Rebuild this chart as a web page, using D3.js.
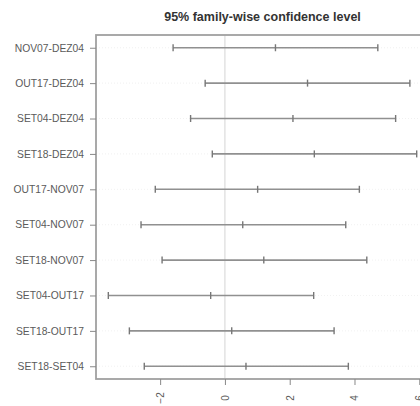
<!DOCTYPE html>
<html><head><meta charset="utf-8">
<script src="https://cdn.jsdelivr.net/npm/d3@7"></script>
<style>body{margin:0;background:#fff}svg{display:block}</style>
</head><body>
<svg id="c" width="420" height="406"></svg>
<script>
const comparisons = ["NOV07-DEZ04","OUT17-DEZ04","SET04-DEZ04","SET18-DEZ04","OUT17-NOV07","SET04-NOV07","SET18-NOV07","SET04-OUT17","SET18-OUT17","SET18-SET04"];
const diff = [1.56, 2.55, 2.10, 2.76, 1.01, 0.55, 1.20, -0.44, 0.21, 0.65];
const lwr  = [-1.60, -0.61, -1.06, -0.39, -2.15, -2.59, -1.94, -3.60, -2.95, -2.49];
const upr  = [4.72, 5.71, 5.27, 5.92, 4.15, 3.73, 4.38, 2.74, 3.37, 3.81];
const xTicks = [-2, 0, 2, 4, 6];
const title = "95% family-wise confidence level";

const svg = d3.select("#c");
const L = 96, R = 429, T = 35, B = 379;
const x = d3.scaleLinear().domain([-3.98, 6.30]).range([L, R]);
const n = comparisons.length;
const y = d3.scaleLinear().domain([0.64, n + 0.36]).range([T, B]);
const rows = comparisons.map((c, i) => ({c, d: diff[i], l: lwr[i], u: upr[i], pos: i + 1}));

const g = svg.append("g");
g.selectAll("line.h").data(rows).join("line")
  .attr("x1", L).attr("x2", R)
  .attr("y1", d => y(d.pos)).attr("y2", d => y(d.pos))
  .attr("stroke", "#e8e8e8").attr("stroke-width", 0.6).attr("stroke-dasharray", "1,2");
g.append("line").attr("x1", x(0)).attr("x2", x(0)).attr("y1", T).attr("y2", B)
  .attr("stroke", "#d4d4d4").attr("stroke-width", 1);

const iv = g.selectAll("g.iv").data(rows).join("g").attr("transform", d => `translate(0,${y(d.pos)})`);
iv.append("line").attr("x1", d => x(d.l)).attr("x2", d => x(d.u))
  .attr("stroke", "#909090").attr("stroke-width", 1.6);
["l","d","u"].forEach(k => {
  iv.append("line").attr("x1", d => x(d[k])).attr("x2", d => x(d[k]))
    .attr("y1", -3.5).attr("y2", 3.5).attr("stroke", "#777").attr("stroke-width", 1.4);
});

svg.append("rect").attr("x", L).attr("y", T).attr("width", R - L).attr("height", B - T)
  .attr("fill", "none").attr("stroke", "#a0a0a0").attr("stroke-width", 1.8);

const ya = svg.append("g").attr("transform", `translate(${L},0)`)
  .call(d3.axisLeft(y).tickValues(rows.map(d => d.pos)).tickFormat(p => comparisons[p - 1]).tickSize(6).tickPadding(6));
ya.select(".domain").remove();
ya.selectAll(".tick line").attr("stroke", "#888").attr("stroke-width", 1);
ya.selectAll(".tick text").attr("fill", "#5a5a5a").style("font-family", "Liberation Sans, Arial, sans-serif").style("font-size", "10.3px");

const xa = svg.append("g").attr("transform", `translate(0,${B})`)
  .call(d3.axisBottom(x).tickValues(xTicks).tickFormat(d3.format("d")).tickSize(6));
xa.select(".domain").remove();
xa.selectAll(".tick line").attr("stroke", "#888").attr("stroke-width", 1);
xa.selectAll(".tick text").attr("fill", "#5a5a5a").style("font-family", "Liberation Sans, Arial, sans-serif").style("font-size", "10px")
  .attr("transform", "rotate(-90)").attr("x", -19).attr("y", 0).attr("dy", "0.35em").attr("text-anchor", "middle");

svg.append("text").attr("x", (L + R) / 2).attr("y", 21).attr("text-anchor", "middle")
  .attr("fill", "#333").style("font-family", "Liberation Sans, Arial, sans-serif")
  .style("font-size", "12.5px").style("font-weight", "bold").text(title);
</script>
</body></html>
